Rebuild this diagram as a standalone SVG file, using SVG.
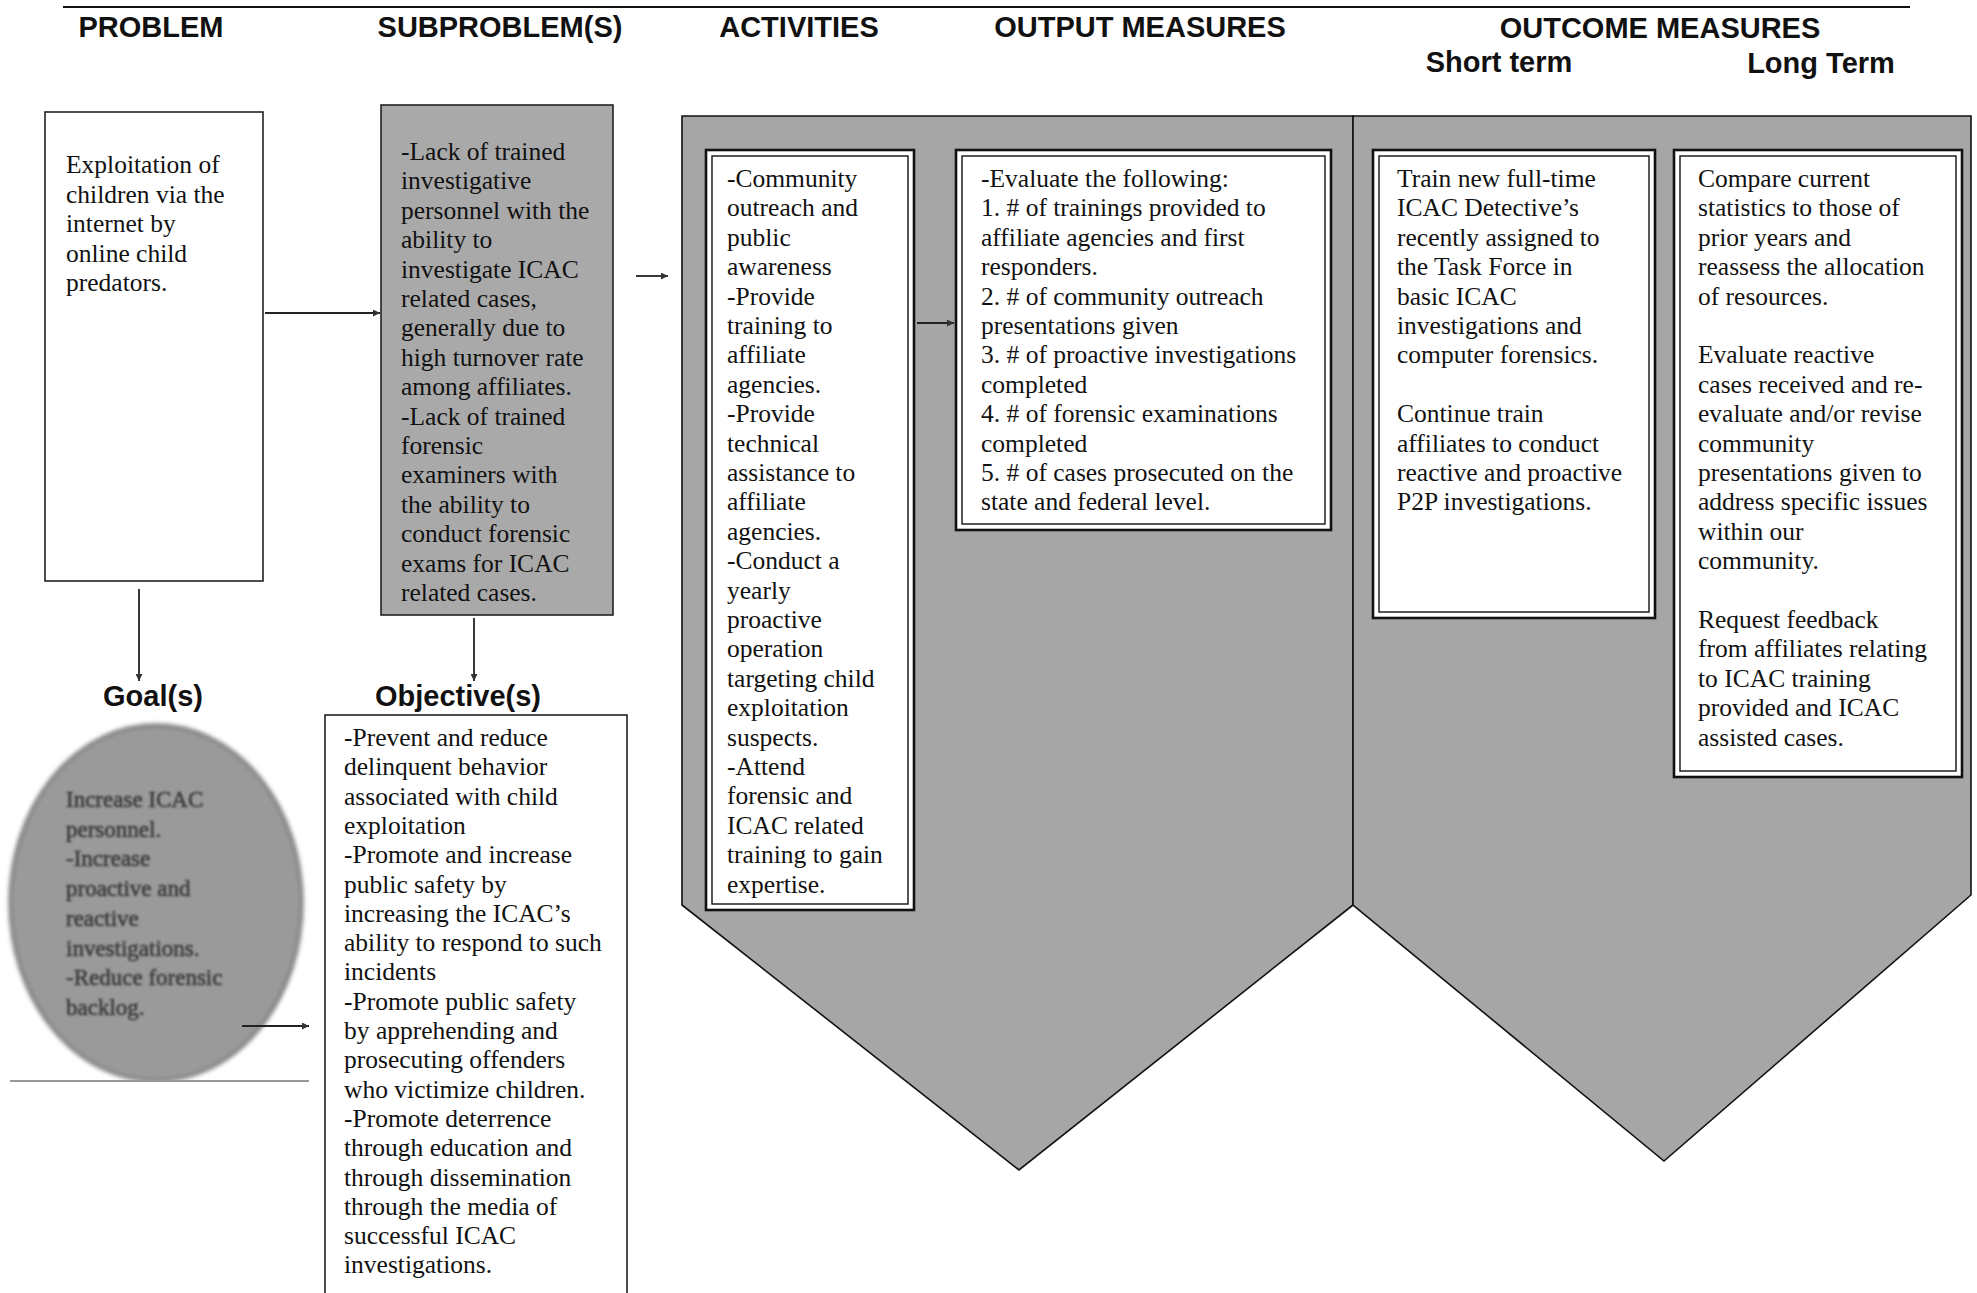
<svg xmlns="http://www.w3.org/2000/svg" width="1977" height="1293" viewBox="0 0 1977 1293">
<defs>
<style>
.hdr{font-family:"Liberation Sans",Arial,sans-serif;font-weight:bold;font-size:29px;fill:#111;text-anchor:middle}
.lbl{font-family:"Liberation Sans",Arial,sans-serif;font-weight:bold;font-size:29px;fill:#111;text-anchor:middle}
.t{font-family:"Liberation Serif","Times New Roman",serif;font-size:25.5px;fill:#111}
.g{font-family:"Liberation Serif","Times New Roman",serif;font-size:23px;fill:#3c3c3c;stroke:#3c3c3c;stroke-width:0.6}
.box{fill:#fff;stroke:#222;stroke-width:1.6}
.dbl{fill:#fff;stroke:#111;stroke-width:2.6}
.dbli{fill:none;stroke:#111;stroke-width:1.4}
.chev{fill:#a6a6a6;stroke:#111;stroke-width:1.6}
.con{stroke:#222;stroke-width:1.8;fill:none;marker-end:url(#ah)}
</style>
<marker id="ah" viewBox="0 0 10 10" refX="10" refY="5" markerWidth="7" markerHeight="7" markerUnits="userSpaceOnUse" orient="auto">
<path d="M0,0 L10,5 L0,10 z" fill="#333"/>
</marker>
<filter id="blur" x="-10%" y="-10%" width="120%" height="120%"><feGaussianBlur stdDeviation="2"/></filter>
<filter id="blurt"><feGaussianBlur stdDeviation="1.1"/></filter>
</defs>
<rect width="1977" height="1293" fill="#fff"/>
<line x1="63" y1="7" x2="1910" y2="7" stroke="#111" stroke-width="2"/>
<g id="headers">
<text class="hdr" x="151" y="37">PROBLEM</text>
<text class="hdr" x="500" y="37">SUBPROBLEM(S)</text>
<text class="hdr" x="799" y="37">ACTIVITIES</text>
<text class="hdr" x="1140" y="37">OUTPUT MEASURES</text>
<text class="hdr" x="1660" y="38">OUTCOME MEASURES</text>
<text class="hdr" x="1499" y="72">Short term</text>
<text class="hdr" x="1821" y="73">Long Term</text>
</g>
<g id="chevron1"><polygon class="chev" points="682,116 1353,116 1353,905 1019,1170 682,905"/></g>
<g id="chevron2"><polygon class="chev" points="1353,116 1971,116 1971,895 1664,1161 1353,905"/></g>
<g id="problem">
<rect class="box" x="45" y="112" width="218" height="469"/>
<text class="t" x="66" y="173">Exploitation of</text>
<text class="t" x="66" y="202.6">children via the</text>
<text class="t" x="66" y="232.2">internet by</text>
<text class="t" x="66" y="261.8">online child</text>
<text class="t" x="66" y="291.4">predators.</text>
</g>
<g id="subproblem">
<rect x="381" y="105" width="232" height="510" fill="#a9a9a9" stroke="#222" stroke-width="1.6"/>
<text class="t" x="401" y="160">-Lack of trained</text>
<text class="t" x="401" y="189.4">investigative</text>
<text class="t" x="401" y="218.8">personnel with the</text>
<text class="t" x="401" y="248.2">ability to</text>
<text class="t" x="401" y="277.6">investigate ICAC</text>
<text class="t" x="401" y="307">related cases,</text>
<text class="t" x="401" y="336.4">generally due to</text>
<text class="t" x="401" y="365.8">high turnover rate</text>
<text class="t" x="401" y="395.2">among affiliates.</text>
<text class="t" x="401" y="424.6">-Lack of trained</text>
<text class="t" x="401" y="454">forensic</text>
<text class="t" x="401" y="483.4">examiners with</text>
<text class="t" x="401" y="512.8">the ability to</text>
<text class="t" x="401" y="542.2">conduct forensic</text>
<text class="t" x="401" y="571.6">exams for ICAC</text>
<text class="t" x="401" y="601">related cases.</text>
</g>
<g id="goal-label"><text class="lbl" x="153" y="706">Goal(s)</text></g>
<g id="objective-label"><text class="lbl" x="458" y="706">Objective(s)</text></g>
<g id="goal">
<ellipse cx="156" cy="903" rx="146" ry="178" fill="#9a9a9a" stroke="#707070" stroke-width="3" filter="url(#blur)"/>
<g filter="url(#blurt)">
<text class="g" x="66" y="807">Increase ICAC</text>
<text class="g" x="66" y="836.7">personnel.</text>
<text class="g" x="66" y="866.4">-Increase</text>
<text class="g" x="66" y="896.1">proactive and</text>
<text class="g" x="66" y="925.8">reactive</text>
<text class="g" x="66" y="955.5">investigations.</text>
<text class="g" x="66" y="985.2">-Reduce forensic</text>
<text class="g" x="66" y="1014.9">backlog.</text>
</g>
<rect x="10" y="1080" width="300" height="213" fill="#fff"/>
<line x1="10" y1="1081" x2="309" y2="1081" stroke="#999" stroke-width="2"/>
</g>
<g id="objectives">
<rect class="box" x="325" y="715" width="302" height="600"/>
<text class="t" x="344" y="746">-Prevent and reduce</text>
<text class="t" x="344" y="775.3">delinquent behavior</text>
<text class="t" x="344" y="804.6">associated with child</text>
<text class="t" x="344" y="833.9">exploitation</text>
<text class="t" x="344" y="863.2">-Promote and increase</text>
<text class="t" x="344" y="892.5">public safety by</text>
<text class="t" x="344" y="921.8">increasing the ICAC’s</text>
<text class="t" x="344" y="951.1">ability to respond to such</text>
<text class="t" x="344" y="980.4">incidents</text>
<text class="t" x="344" y="1009.7">-Promote public safety</text>
<text class="t" x="344" y="1039">by apprehending and</text>
<text class="t" x="344" y="1068.3">prosecuting offenders</text>
<text class="t" x="344" y="1097.6">who victimize children.</text>
<text class="t" x="344" y="1126.9">-Promote deterrence</text>
<text class="t" x="344" y="1156.2">through education and</text>
<text class="t" x="344" y="1185.5">through dissemination</text>
<text class="t" x="344" y="1214.8">through the media of</text>
<text class="t" x="344" y="1244.1">successful ICAC</text>
<text class="t" x="344" y="1273.4">investigations.</text>
</g>
<g id="activities">
<rect class="dbl" x="706" y="150" width="208" height="760"/>
<rect class="dbli" x="712" y="156" width="196" height="748"/>
<text class="t" x="727" y="187">-Community</text>
<text class="t" x="727" y="216.4">outreach and</text>
<text class="t" x="727" y="245.8">public</text>
<text class="t" x="727" y="275.2">awareness</text>
<text class="t" x="727" y="304.6">-Provide</text>
<text class="t" x="727" y="334">training to</text>
<text class="t" x="727" y="363.4">affiliate</text>
<text class="t" x="727" y="392.8">agencies.</text>
<text class="t" x="727" y="422.2">-Provide</text>
<text class="t" x="727" y="451.6">technical</text>
<text class="t" x="727" y="481">assistance to</text>
<text class="t" x="727" y="510.4">affiliate</text>
<text class="t" x="727" y="539.8">agencies.</text>
<text class="t" x="727" y="569.2">-Conduct a</text>
<text class="t" x="727" y="598.6">yearly</text>
<text class="t" x="727" y="628">proactive</text>
<text class="t" x="727" y="657.4">operation</text>
<text class="t" x="727" y="686.8">targeting child</text>
<text class="t" x="727" y="716.2">exploitation</text>
<text class="t" x="727" y="745.6">suspects.</text>
<text class="t" x="727" y="775">-Attend</text>
<text class="t" x="727" y="804.4">forensic and</text>
<text class="t" x="727" y="833.8">ICAC related</text>
<text class="t" x="727" y="863.2">training to gain</text>
<text class="t" x="727" y="892.6">expertise.</text>
</g>
<g id="output">
<rect class="dbl" x="956" y="150" width="375" height="380"/>
<rect class="dbli" x="962" y="156" width="363" height="368"/>
<text class="t" x="981" y="187">-Evaluate the following:</text>
<text class="t" x="981" y="216.4">1. # of trainings provided to</text>
<text class="t" x="981" y="245.8">affiliate agencies and first</text>
<text class="t" x="981" y="275.2">responders.</text>
<text class="t" x="981" y="304.6">2. # of community outreach</text>
<text class="t" x="981" y="334">presentations given</text>
<text class="t" x="981" y="363.4">3. # of proactive investigations</text>
<text class="t" x="981" y="392.8">completed</text>
<text class="t" x="981" y="422.2">4. # of forensic examinations</text>
<text class="t" x="981" y="451.6">completed</text>
<text class="t" x="981" y="481">5. # of cases prosecuted on the</text>
<text class="t" x="981" y="510.4">state and federal level.</text>
</g>
<g id="short-term">
<rect class="dbl" x="1373" y="150" width="282" height="468"/>
<rect class="dbli" x="1379" y="156" width="270" height="456"/>
<text class="t" x="1397" y="187">Train new full-time</text>
<text class="t" x="1397" y="216.4">ICAC Detective’s</text>
<text class="t" x="1397" y="245.8">recently assigned to</text>
<text class="t" x="1397" y="275.2">the Task Force in</text>
<text class="t" x="1397" y="304.6">basic ICAC</text>
<text class="t" x="1397" y="334">investigations and</text>
<text class="t" x="1397" y="363.4">computer forensics.</text>
<text class="t" x="1397" y="422.2">Continue train</text>
<text class="t" x="1397" y="451.6">affiliates to conduct</text>
<text class="t" x="1397" y="481">reactive and proactive</text>
<text class="t" x="1397" y="510.4">P2P investigations.</text>
</g>
<g id="long-term">
<rect class="dbl" x="1674" y="150" width="288" height="627"/>
<rect class="dbli" x="1680" y="156" width="276" height="615"/>
<text class="t" x="1698" y="187">Compare current</text>
<text class="t" x="1698" y="216.4">statistics to those of</text>
<text class="t" x="1698" y="245.8">prior years and</text>
<text class="t" x="1698" y="275.2">reassess the allocation</text>
<text class="t" x="1698" y="304.6">of resources.</text>
<text class="t" x="1698" y="363.4">Evaluate reactive</text>
<text class="t" x="1698" y="392.8">cases received and re-</text>
<text class="t" x="1698" y="422.2">evaluate and/or revise</text>
<text class="t" x="1698" y="451.6">community</text>
<text class="t" x="1698" y="481">presentations given to</text>
<text class="t" x="1698" y="510.4">address specific issues</text>
<text class="t" x="1698" y="539.8">within our</text>
<text class="t" x="1698" y="569.2">community.</text>
<text class="t" x="1698" y="628">Request feedback</text>
<text class="t" x="1698" y="657.4">from affiliates relating</text>
<text class="t" x="1698" y="686.8">to ICAC training</text>
<text class="t" x="1698" y="716.2">provided and ICAC</text>
<text class="t" x="1698" y="745.6">assisted cases.</text>
</g>
<g id="connectors">
<line class="con" x1="265" y1="313" x2="380" y2="313"/>
<line class="con" x1="636" y1="276" x2="668" y2="276"/>
<line class="con" x1="917" y1="323" x2="954" y2="323"/>
<line class="con" x1="139" y1="589" x2="139" y2="681"/>
<line class="con" x1="474" y1="618" x2="474" y2="681"/>
<line class="con" x1="242" y1="1026" x2="309" y2="1026"/>
</g>
</svg>
